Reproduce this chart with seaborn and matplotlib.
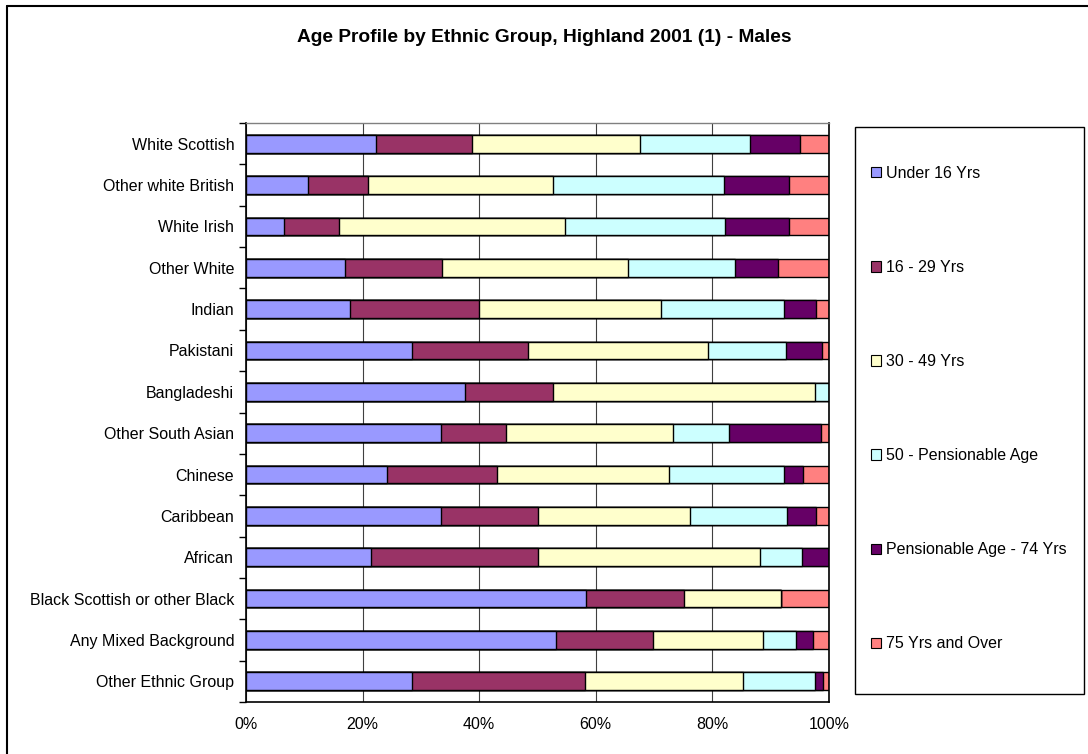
import numpy as np
import pandas as pd
import seaborn as sns
import matplotlib.pyplot as plt
from matplotlib.patches import Rectangle, Patch
from matplotlib.lines import Line2D

groups = ["White Scottish", "Other white British", "White Irish", "Other White",
          "Indian", "Pakistani", "Bangladeshi", "Other South Asian", "Chinese",
          "Caribbean", "African", "Black Scottish or other Black",
          "Any Mixed Background", "Other Ethnic Group"]

# percentages
under_16 = [22.3, 10.6, 6.6, 17.0, 17.8, 28.5, 37.6, 33.5, 24.1, 33.5, 21.5, 58.4, 53.1, 28.5]
age_16_29 = [16.4, 10.4, 9.4, 16.7, 22.1, 19.8, 15.1, 11.1, 18.9, 16.5, 28.5, 16.8, 16.7, 29.6]
age_30_49 = [28.8, 31.7, 38.7, 31.8, 31.2, 30.9, 44.9, 28.6, 29.6, 26.2, 38.2, 16.6, 18.9, 27.2]
age_50_pens = [18.9, 29.3, 27.5, 18.3, 21.2, 13.4, 2.4, 9.6, 19.7, 16.6, 7.2, 0.0, 5.7, 12.3]
pens_74 = [8.7, 11.1, 10.9, 7.5, 5.5, 6.2, 0.0, 15.8, 3.2, 5.0, 4.6, 0.0, 2.9, 1.3]
over_75 = [4.9, 6.9, 6.9, 8.7, 2.2, 1.2, 0.0, 1.4, 4.5, 2.2, 0.0, 8.2, 2.7, 1.1]

age_bands = ["Under 16 Yrs", "16 - 29 Yrs", "30 - 49 Yrs", "50 - Pensionable Age",
             "Pensionable Age - 74 Yrs", "75 Yrs and Over"]
colours = ["#9999FF", "#993366", "#FFFFCC", "#CCFFFF", "#660066", "#FF8080"]

W, H = 1088, 754


def main():
    sns.set_style("white")
    plt.rcParams["font.family"] = ["Liberation Sans", "DejaVu Sans"]
    plt.rcParams["text.color"] = "black"
    plt.rcParams["xtick.color"] = "black"
    plt.rcParams["ytick.color"] = "black"

    df = pd.DataFrame(dict(zip(age_bands, [under_16, age_16_29, age_30_49,
                                           age_50_pens, pens_74, over_75])), index=groups)
    cum = df.cumsum(axis=1)
    cum.index.name = "Group"
    cum = cum.reset_index()

    fig = plt.figure(figsize=(W / 100, H / 100), dpi=100)
    ax = fig.add_axes([246 / W, 1 - 702 / H, (829 - 246) / W, (702 - 123) / H])

    # widest cumulative first, narrower ones on top -> stacked look
    for band, colour in reversed(list(zip(age_bands, colours))):
        sns.barplot(data=cum, x=band, y="Group", orient="h", color=colour,
                    saturation=1, width=0.43, edgecolor="black", linewidth=1, ax=ax)

    ax.set_axisbelow(True)
    ax.xaxis.grid(True, color="#404040", linewidth=0.8)
    ax.set_xlim(0, 100)
    ax.set_xticks(np.arange(0, 101, 20))
    ax.set_xticklabels([f"{v}%" for v in range(0, 101, 20)])
    ax.set_xlabel("")
    ax.set_ylabel("")
    ax.set_ylim(len(groups) - 0.5, -0.5)
    ax.set_yticks(np.arange(-0.5, len(groups), 1), minor=True)
    ax.tick_params(axis="y", which="major", length=0, pad=8.5, labelsize=11.5, labelcolor="black")
    ax.tick_params(axis="y", which="minor", left=True, length=5, width=1, color="black")
    ax.tick_params(axis="x", which="major", length=0, pad=11, labelsize=11.5, labelcolor="black")

    for side in ["left", "bottom", "right"]:
        ax.spines[side].set_color("black")
        ax.spines[side].set_linewidth(1.2)
    ax.spines["top"].set_color("#808080")
    ax.spines["top"].set_linewidth(1)

    fig.text(544 / W, 1 - 37 / H, "Age Profile by Ethnic Group, Highland 2001 (1) - Males",
             ha="center", va="center", fontsize=13.8, fontweight="bold", color="black")

    # legend box
    fig.add_artist(Rectangle((855 / W, 1 - 694 / H), 229 / W, 567 / H,
                             transform=fig.transFigure, fill=False,
                             edgecolor="black", linewidth=1))
    handles = [Patch(facecolor=c, edgecolor="black", linewidth=0.8) for c in colours]
    fig.legend(handles, age_bands, loc="upper left", bbox_to_anchor=(871 / W, 1 - 166 / H),
               frameon=False, fontsize=11.5, handlelength=0.6, handleheight=0.6,
               handletextpad=0.35, labelspacing=4.95, borderpad=0, borderaxespad=0)

    # outer chart border
    fig.add_artist(Line2D([7 / W, 7 / W], [0, 1 - 6 / H], transform=fig.transFigure,
                          color="black", linewidth=1.5))
    fig.add_artist(Line2D([7 / W, 1], [1 - 6 / H, 1 - 6 / H], transform=fig.transFigure,
                          color="black", linewidth=1.5))

    fig.savefig("out.png", dpi=100)


if __name__ == "__main__":
    main()
